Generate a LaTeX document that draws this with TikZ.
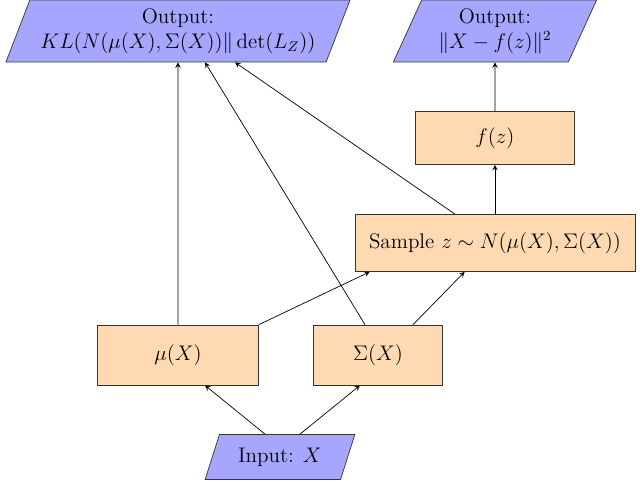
\documentclass[tikz,border=0pt]{standalone}
\usetikzlibrary{shapes.geometric}
\begin{document}
\begin{tikzpicture}[x=0.02cm,y=-0.02cm,
 io/.style={trapezium,trapezium left angle=65,trapezium right angle=115,draw=black!80,fill=blue!35!white,inner sep=1pt,align=center,trapezium stretches=true,font=\large},
 box/.style={rectangle,draw=black!80,fill=orange!30!white,align=center,font=\large},
 >=stealth]
\useasboundingbox (0,0) rectangle (640,486);
\node[io,minimum width=6.9cm,minimum height=1.24cm] (out1) at (178,31) {Output:\\ $KL(N(\mu(X),\Sigma(X))\|\det(L_Z))$};
\node[io,minimum width=4.1cm,minimum height=1.24cm] (out2) at (495,31) {Output:\\ $\|X-f(z)\|^2$};
\node[io,minimum width=3.0cm,minimum height=0.9cm] (in) at (280,457) {Input: $X$};
\node[box,minimum width=3.22cm,minimum height=1.2cm] (mu) at (178,355) {$\mu(X)$};
\node[box,minimum width=2.58cm,minimum height=1.2cm] (sig) at (378,355) {$\Sigma(X)$};
\node[box,minimum width=5.6cm,minimum height=1.14cm] (s) at (495,243) {Sample $z\sim N(\mu(X),\Sigma(X))$};
\node[box,minimum width=3.18cm,minimum height=1.06cm] (f) at (495,138) {$f(z)$};
\draw[->] ([xshift=-0.3cm]in.north) -- (mu.south east -| 205,0);
\draw[->] ([xshift=0.4cm]in.north) -- (sig.south west -| 360,0);
\draw[->] (mu.north) -- (out1.south);
\draw[->] (mu.north east) -- ([xshift=0.3cm]s.south west);
\draw[->] ([xshift=0.7cm]sig.north) -- ([xshift=2.2cm]s.south west);
\draw[->] ([xshift=-0.26cm]sig.north) -- ([xshift=0.54cm]out1.south);
\draw[->] ([xshift=-0.8cm]s.north) -- ([xshift=1.14cm]out1.south);
\draw[->] (s.north) -- (f.south);
\draw[->] (f.north) -- (out2.south);
\end{tikzpicture}
\end{document}
